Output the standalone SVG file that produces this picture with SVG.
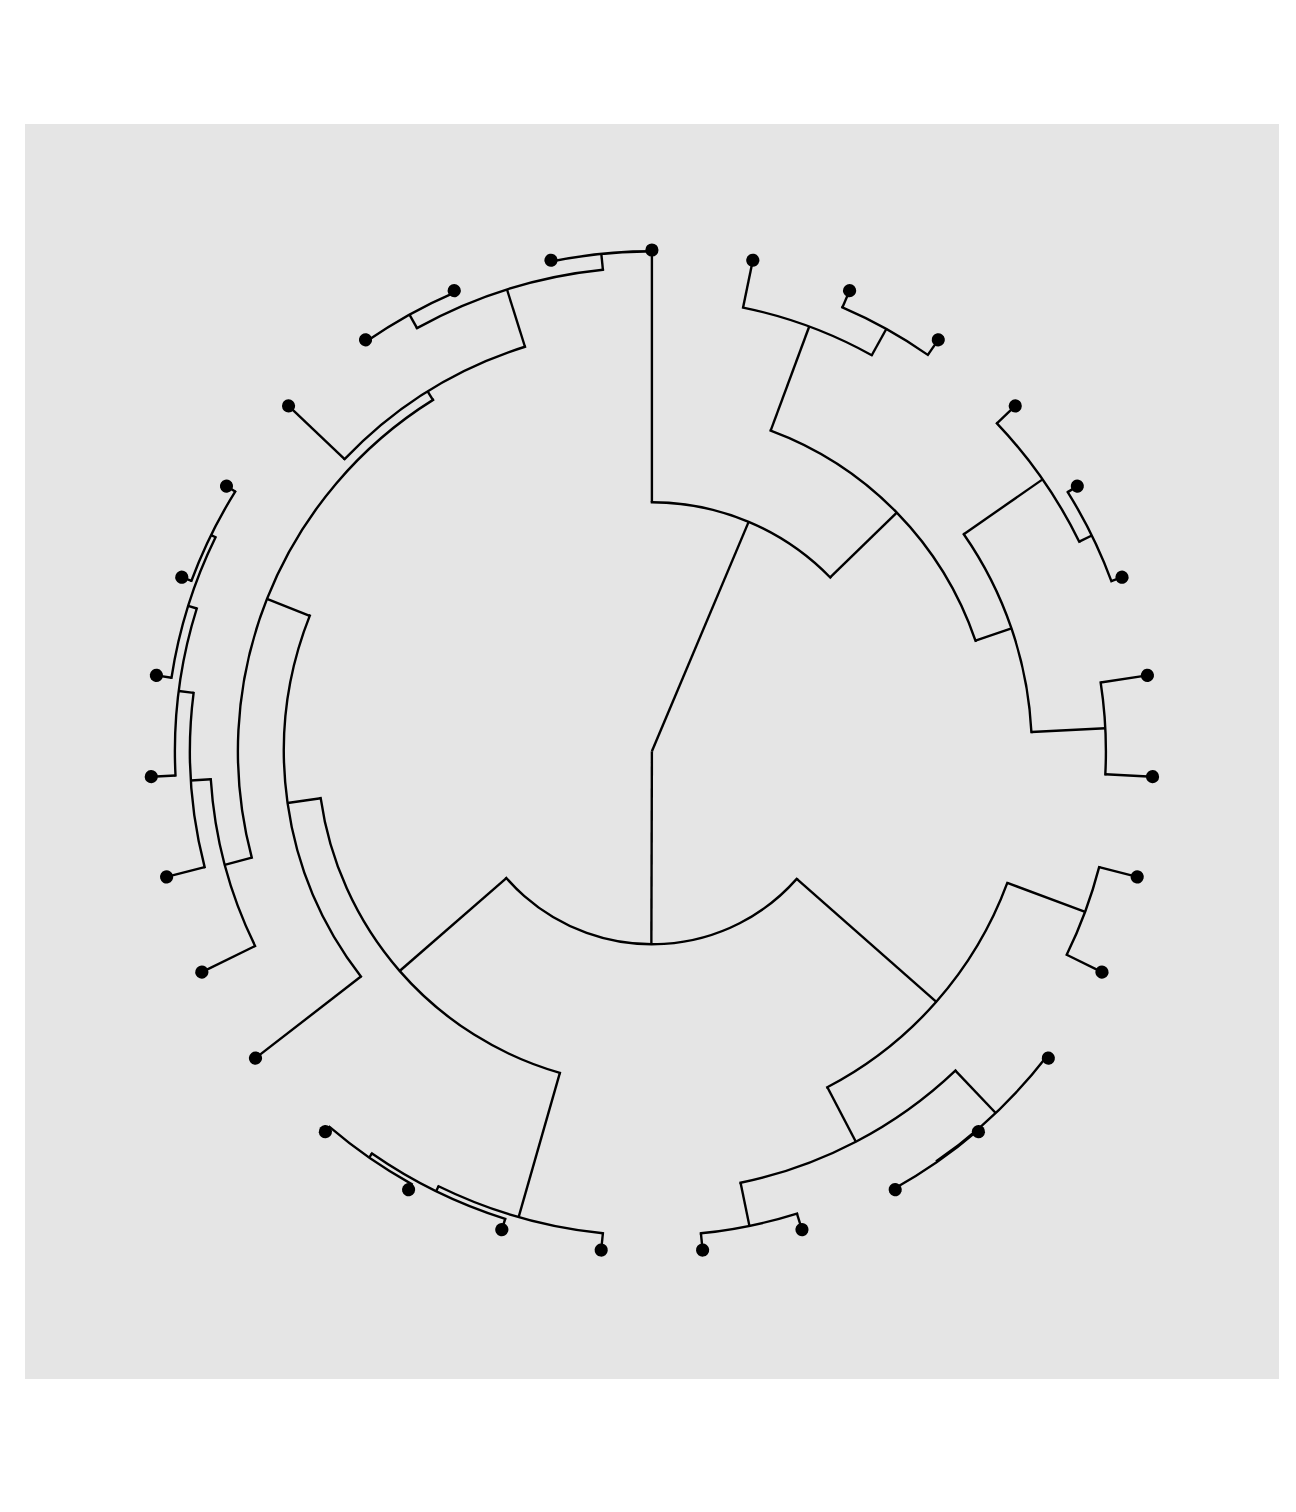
<svg xmlns="http://www.w3.org/2000/svg" width="1296" height="1512" viewBox="0 0 1296 1512">
<style>
.br{stroke:#000;stroke-width:2.4;fill:none}
.arc{stroke:#000;stroke-width:2.4;fill:none;stroke-linecap:square}
.tip circle{fill:#000}
</style>
<rect width="1296" height="1512" fill="#ffffff"/>
<rect x="25" y="124" width="1254" height="1255" fill="#e5e5e5"/>
<g transform="translate(651.9,751.3)">
<g id="connectors">
<line class="br" y1="0" y2="-249" transform="rotate(22.8629)"/>
<line class="br" y1="0" y2="-193" transform="rotate(180.1588)"/>
<line class="br" y1="-249" y2="-501.3" transform="rotate(0)"/>
<line class="br" y1="-249" y2="-342" transform="rotate(45.7258)"/>
<line class="br" y1="-342" y2="-453" transform="rotate(20.3226)"/>
<line class="br" y1="-342" y2="-380" transform="rotate(71.129)"/>
<line class="br" y1="-453" y2="-501.3" transform="rotate(11.6129)"/>
<line class="br" y1="-453" y2="-483" transform="rotate(29.0323)"/>
<line class="br" y1="-483" y2="-501.3" transform="rotate(23.2258)"/>
<line class="br" y1="-483" y2="-501.3" transform="rotate(34.8387)"/>
<line class="br" y1="-380" y2="-476" transform="rotate(55.1613)"/>
<line class="br" y1="-380" y2="-454" transform="rotate(87.0968)"/>
<line class="br" y1="-476" y2="-501.3" transform="rotate(46.4516)"/>
<line class="br" y1="-476" y2="-490" transform="rotate(63.871)"/>
<line class="br" y1="-490" y2="-501.3" transform="rotate(58.0645)"/>
<line class="br" y1="-490" y2="-501.3" transform="rotate(69.6774)"/>
<line class="br" y1="-454" y2="-501.3" transform="rotate(81.2903)"/>
<line class="br" y1="-454" y2="-501.3" transform="rotate(92.9032)"/>
<line class="br" y1="-193" y2="-379" transform="rotate(131.371)"/>
<line class="br" y1="-193" y2="-334.5" transform="rotate(228.9466)"/>
<line class="br" y1="-379" y2="-462" transform="rotate(110.3226)"/>
<line class="br" y1="-379" y2="-440.5" transform="rotate(152.4194)"/>
<line class="br" y1="-462" y2="-501.3" transform="rotate(104.5161)"/>
<line class="br" y1="-462" y2="-501.3" transform="rotate(116.129)"/>
<line class="br" y1="-440.5" y2="-499" transform="rotate(136.4516)"/>
<line class="br" y1="-440.5" y2="-484.5" transform="rotate(168.3871)"/>
<line class="br" y1="-499" y2="-501.3" transform="rotate(127.7419)"/>
<line class="br" y1="-499" y2="-500" transform="rotate(145.1613)"/>
<line class="br" y1="-500" y2="-501.3" transform="rotate(139.3548)"/>
<line class="br" y1="-500" y2="-501.3" transform="rotate(150.9677)"/>
<line class="br" y1="-484.5" y2="-501.3" transform="rotate(162.5806)"/>
<line class="br" y1="-484.5" y2="-501.3" transform="rotate(174.1935)"/>
<line class="br" y1="-334.5" y2="-484.5" transform="rotate(195.9677)"/>
<line class="br" y1="-334.5" y2="-368" transform="rotate(261.9254)"/>
<line class="br" y1="-484.5" y2="-501.3" transform="rotate(185.8065)"/>
<line class="br" y1="-484.5" y2="-490" transform="rotate(206.129)"/>
<line class="br" y1="-490" y2="-501.3" transform="rotate(197.4194)"/>
<line class="br" y1="-490" y2="-495" transform="rotate(214.8387)"/>
<line class="br" y1="-495" y2="-501.3" transform="rotate(209.0323)"/>
<line class="br" y1="-495" y2="-501.3" transform="rotate(220.6452)"/>
<line class="br" y1="-368" y2="-501.3" transform="rotate(232.2581)"/>
<line class="br" y1="-368" y2="-414" transform="rotate(291.5927)"/>
<line class="br" y1="-414" y2="-442" transform="rotate(255.121)"/>
<line class="br" y1="-414" y2="-424" transform="rotate(328.0645)"/>
<line class="br" y1="-442" y2="-501.3" transform="rotate(243.871)"/>
<line class="br" y1="-442" y2="-462" transform="rotate(266.371)"/>
<line class="br" y1="-462" y2="-501.3" transform="rotate(255.4839)"/>
<line class="br" y1="-462" y2="-477" transform="rotate(277.2581)"/>
<line class="br" y1="-477" y2="-501.3" transform="rotate(267.0968)"/>
<line class="br" y1="-477" y2="-486" transform="rotate(287.4194)"/>
<line class="br" y1="-486" y2="-501.3" transform="rotate(278.7097)"/>
<line class="br" y1="-486" y2="-491" transform="rotate(296.129)"/>
<line class="br" y1="-491" y2="-501.3" transform="rotate(290.3226)"/>
<line class="br" y1="-491" y2="-501.3" transform="rotate(301.9355)"/>
<line class="br" y1="-424" y2="-501.3" transform="rotate(313.5484)"/>
<line class="br" y1="-424" y2="-484" transform="rotate(342.5806)"/>
<line class="br" y1="-484" y2="-499.5" transform="rotate(330.9677)"/>
<line class="br" y1="-484" y2="-500" transform="rotate(354.1935)"/>
<line class="br" y1="-499.5" y2="-501.3" transform="rotate(325.1613)"/>
<line class="br" y1="-499.5" y2="-501.3" transform="rotate(336.7742)"/>
<line class="br" y1="-500" y2="-501.3" transform="rotate(348.3871)"/>
<line class="br" y1="-500" y2="-501.3" transform="rotate(360)"/>
<circle class="arc" r="249" stroke-dasharray="198.72 10000" transform="rotate(-90)"/>
<circle class="arc" r="342" stroke-dasharray="303.26 10000" transform="rotate(-69.6774)"/>
<circle class="arc" r="453" stroke-dasharray="137.72 10000" transform="rotate(-78.3871)"/>
<circle class="arc" r="483" stroke-dasharray="97.90 10000" transform="rotate(-66.7742)"/>
<circle class="arc" r="380" stroke-dasharray="211.80 10000" transform="rotate(-34.8387)"/>
<circle class="arc" r="476" stroke-dasharray="144.72 10000" transform="rotate(-43.5484)"/>
<circle class="arc" r="490" stroke-dasharray="99.32 10000" transform="rotate(-31.9355)"/>
<circle class="arc" r="454" stroke-dasharray="92.02 10000" transform="rotate(-8.7097)"/>
<circle class="arc" r="193" stroke-dasharray="328.68 10000" transform="rotate(41.371)"/>
<circle class="arc" r="379" stroke-dasharray="278.46 10000" transform="rotate(20.3226)"/>
<circle class="arc" r="462" stroke-dasharray="93.64 10000" transform="rotate(14.5161)"/>
<circle class="arc" r="440.5" stroke-dasharray="245.53 10000" transform="rotate(46.4516)"/>
<circle class="arc" r="499" stroke-dasharray="151.71 10000" transform="rotate(37.7419)"/>
<circle class="arc" r="500" stroke-dasharray="101.34 10000" transform="rotate(49.3548)"/>
<circle class="arc" r="484.5" stroke-dasharray="98.20 10000" transform="rotate(72.5806)"/>
<circle class="arc" r="334.5" stroke-dasharray="385.06 10000" transform="rotate(105.9677)"/>
<circle class="arc" r="484.5" stroke-dasharray="171.85 10000" transform="rotate(95.8065)"/>
<circle class="arc" r="490" stroke-dasharray="148.97 10000" transform="rotate(107.4194)"/>
<circle class="arc" r="495" stroke-dasharray="100.33 10000" transform="rotate(119.0323)"/>
<circle class="arc" r="368" stroke-dasharray="381.09 10000" transform="rotate(142.2581)"/>
<circle class="arc" r="414" stroke-dasharray="527.06 10000" transform="rotate(165.121)"/>
<circle class="arc" r="442" stroke-dasharray="173.57 10000" transform="rotate(153.871)"/>
<circle class="arc" r="462" stroke-dasharray="175.57 10000" transform="rotate(165.4839)"/>
<circle class="arc" r="477" stroke-dasharray="169.19 10000" transform="rotate(177.0968)"/>
<circle class="arc" r="486" stroke-dasharray="147.75 10000" transform="rotate(188.7097)"/>
<circle class="arc" r="491" stroke-dasharray="99.52 10000" transform="rotate(200.3226)"/>
<circle class="arc" r="424" stroke-dasharray="214.84 10000" transform="rotate(223.5484)"/>
<circle class="arc" r="484" stroke-dasharray="196.20 10000" transform="rotate(240.9677)"/>
<circle class="arc" r="499.5" stroke-dasharray="101.24 10000" transform="rotate(235.1613)"/>
<circle class="arc" r="500" stroke-dasharray="101.34 10000" transform="rotate(258.3871)"/>
</g>
<g id="tip-0" class="tip" transform="rotate(0)"><circle cy="-501.3" r="6.6"/></g>
<g id="tip-1" class="tip" transform="rotate(11.6129)"><circle cy="-501.3" r="6.6"/></g>
<g id="tip-2" class="tip" transform="rotate(23.2258)"><circle cy="-501.3" r="6.6"/></g>
<g id="tip-3" class="tip" transform="rotate(34.8387)"><circle cy="-501.3" r="6.6"/></g>
<g id="tip-4" class="tip" transform="rotate(46.4516)"><circle cy="-501.3" r="6.6"/></g>
<g id="tip-5" class="tip" transform="rotate(58.0645)"><circle cy="-501.3" r="6.6"/></g>
<g id="tip-6" class="tip" transform="rotate(69.6774)"><circle cy="-501.3" r="6.6"/></g>
<g id="tip-7" class="tip" transform="rotate(81.2903)"><circle cy="-501.3" r="6.6"/></g>
<g id="tip-8" class="tip" transform="rotate(92.9032)"><circle cy="-501.3" r="6.6"/></g>
<g id="tip-9" class="tip" transform="rotate(104.5161)"><circle cy="-501.3" r="6.6"/></g>
<g id="tip-10" class="tip" transform="rotate(116.129)"><circle cy="-501.3" r="6.6"/></g>
<g id="tip-11" class="tip" transform="rotate(127.7419)"><circle cy="-501.3" r="6.6"/></g>
<g id="tip-12" class="tip" transform="rotate(139.3548)"><circle cy="-501.3" r="6.6"/></g>
<g id="tip-13" class="tip" transform="rotate(150.9677)"><circle cy="-501.3" r="6.6"/></g>
<g id="tip-14" class="tip" transform="rotate(162.5806)"><circle cy="-501.3" r="6.6"/></g>
<g id="tip-15" class="tip" transform="rotate(174.1935)"><circle cy="-501.3" r="6.6"/></g>
<g id="tip-16" class="tip" transform="rotate(185.8065)"><circle cy="-501.3" r="6.6"/></g>
<g id="tip-17" class="tip" transform="rotate(197.4194)"><circle cy="-501.3" r="6.6"/></g>
<g id="tip-18" class="tip" transform="rotate(209.0323)"><circle cy="-501.3" r="6.6"/></g>
<g id="tip-19" class="tip" transform="rotate(220.6452)"><circle cy="-501.3" r="6.6"/></g>
<g id="tip-20" class="tip" transform="rotate(232.2581)"><circle cy="-501.3" r="6.6"/></g>
<g id="tip-21" class="tip" transform="rotate(243.871)"><circle cy="-501.3" r="6.6"/></g>
<g id="tip-22" class="tip" transform="rotate(255.4839)"><circle cy="-501.3" r="6.6"/></g>
<g id="tip-23" class="tip" transform="rotate(267.0968)"><circle cy="-501.3" r="6.6"/></g>
<g id="tip-24" class="tip" transform="rotate(278.7097)"><circle cy="-501.3" r="6.6"/></g>
<g id="tip-25" class="tip" transform="rotate(290.3226)"><circle cy="-501.3" r="6.6"/></g>
<g id="tip-26" class="tip" transform="rotate(301.9355)"><circle cy="-501.3" r="6.6"/></g>
<g id="tip-27" class="tip" transform="rotate(313.5484)"><circle cy="-501.3" r="6.6"/></g>
<g id="tip-28" class="tip" transform="rotate(325.1613)"><circle cy="-501.3" r="6.6"/></g>
<g id="tip-29" class="tip" transform="rotate(336.7742)"><circle cy="-501.3" r="6.6"/></g>
<g id="tip-30" class="tip" transform="rotate(348.3871)"><circle cy="-501.3" r="6.6"/></g>
</g>
</svg>
